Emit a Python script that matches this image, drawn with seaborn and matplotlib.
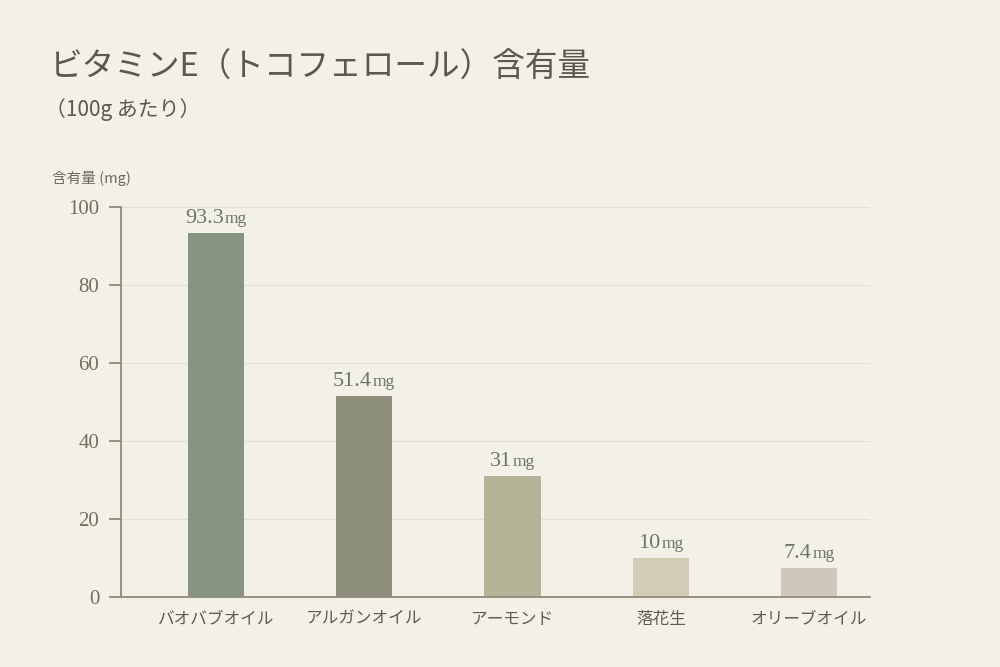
import matplotlib
matplotlib.use("Agg")
from matplotlib import pyplot as plt
from matplotlib.transforms import offset_copy
import seaborn as sns
import pandas as pd

# データ
品目 = ['バオバブオイル', 'アルガンオイル', 'アーモンド', '落花生', 'オリーブオイル']
含有量 = [93.3, 51.4, 31, 10, 7.4]
ラベル = ['93.3', '51.4', '31', '10', '7.4']
色 = ['#879482', '#8d8f7c', '#b3b497', '#d1ccb3', '#cfc7bc']

df = pd.DataFrame({'品目': 品目, '含有量': 含有量})

sns.set_theme(style='white')
fonts = ['Liberation Serif', 'Noto Sans CJK JP', 'DejaVu Sans']
plt.rcParams['font.family'] = fonts
jp = ['Noto Sans CJK JP', 'DejaVu Sans']

bg = '#f3f0e8'
axis_col = '#8e8c78'
tick_col = '#6f705c'
val_col = '#6b7763'

fig = plt.figure(figsize=(10, 6.67), dpi=100, facecolor=bg)
ax = fig.add_axes([0.121, 0.105, 0.749, 0.585])
ax.set_facecolor(bg)

sns.barplot(data=df, x='品目', y='含有量', hue='品目', palette=色,
            width=0.38, legend=False, ax=ax, saturation=1, linewidth=0)

ax.set_xlim(-0.64, 4.41)
ax.set_ylim(0, 100)
ax.set_yticks([0, 20, 40, 60, 80, 100])
ax.yaxis.grid(True, color='#e4e0d6', linewidth=0.8)
ax.set_axisbelow(True)

for s in ['top', 'right']:
    ax.spines[s].set_visible(False)
for s in ['left', 'bottom']:
    ax.spines[s].set_color(axis_col)
    ax.spines[s].set_linewidth(1.3)

ax.tick_params(axis='y', left=True, length=8.6, width=1.3, color=axis_col,
               labelcolor=tick_col, labelsize=15, pad=7)
ax.tick_params(axis='x', bottom=False, length=0, labelcolor='#5e5d52', labelsize=12, pad=10)
for t in ax.get_xticklabels():
    t.set_family(jp)
ax.set_xlabel('')
ax.set_ylabel('')

# 値ラベル (数字 + mg を中央揃え)
fig.canvas.draw()
r = fig.canvas.get_renderer()
for i, (v, lab) in enumerate(zip(含有量, ラベル)):
    t1 = ax.text(i, v, lab, fontsize=16, color=val_col, ha='left', va='baseline')
    t2 = ax.text(i, v, 'mg', fontsize=12.5, color=val_col, ha='left', va='baseline')
    w1 = t1.get_window_extent(r).width
    w2 = t2.get_window_extent(r).width
    start = -(w1 + w2 + 1) / 2
    t1.set_transform(offset_copy(ax.transData, fig=fig, x=start, y=10, units='dots'))
    t2.set_transform(offset_copy(ax.transData, fig=fig, x=start + w1 + 1, y=10, units='dots'))

fig.text(0.05, 0.898, 'ビタミンE（トコフェロール）含有量', fontsize=23.5, color='#5a5853',
         family=jp, va='center')
fig.text(0.045, 0.835, '（100g あたり）', fontsize=15, color='#5a5853',
         family=jp, va='center')
fig.text(0.052, 0.733, '含有量 (mg)', fontsize=10.5, color='#6a6960',
         family=jp, va='center')

fig.savefig('out.png', dpi=100, facecolor=bg)
